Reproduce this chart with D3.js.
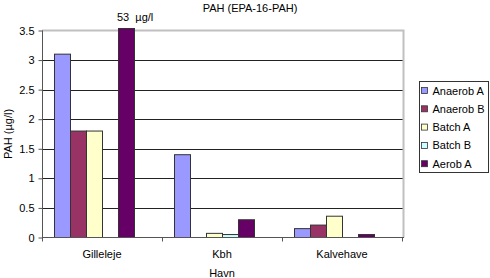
<!DOCTYPE html>
<html>
<head>
<meta charset="utf-8">
<script src="https://cdn.jsdelivr.net/npm/d3@7"></script>
<style>
    body { margin: 0; background: white; }
    svg { display: block; font-family: "Liberation Sans", Arial, sans-serif; }
</style>
</head>
<body>
<div id="chart"></div>
<script>
// harbours along the x axis
const categories = ["Gilleleje", "Kbh", "Kalvehave"];
const series = ["Anaerob A", "Anaerob B", "Batch A", "Batch B", "Aerob A"];
const colors = ["#9999ff", "#993366", "#ffffcc", "#ccffff", "#660066"];

// PAH in µg/l, one array per series (Gilleleje, Kbh, Kalvehave)
const anaerobA = [3.1, 1.4, 0.15];
const anaerobB = [1.8, 0, 0.21];
const batchA = [1.8, 0.07, 0.36];
const batchB = [0, 0.05, 0];
const aerobA = [53, 0.3, 0.05];

const yTicks = [0, 0.5, 1, 1.5, 2, 2.5, 3, 3.5];
const title = "PAH (EPA-16-PAH)";
const yTitle = "PAH (µg/l)";
const xTitle = "Havn";
const overflowLabel = "53  µg/l";

const width = 490;
const height = 278;
const plot = { left: 42, right: 402, top: 30.5, bottom: 237.5 };

function pahChart() {
    const values = [anaerobA, anaerobB, batchA, batchB, aerobA];
    const rows = [];
    categories.forEach((c, i) => {
        series.forEach((s, j) => rows.push({ category: c, series: s, value: values[j][i], color: colors[j] }));
    });

    const svg = d3.select("#chart").append("svg")
        .attr("width", width)
        .attr("height", height);

    const x0 = d3.scaleBand().domain(categories).range([plot.left, plot.right]);
    // Excel leaves room for a sixth slot, so the groups sit left of centre
    const x1 = d3.scaleBand().domain([...series, "_"]).range([0, x0.bandwidth()]).paddingOuter(0.75);
    const y = d3.scaleLinear().domain([0, 3.5]).range([plot.bottom, plot.top]);

    // gridlines
    svg.append("g")
        .selectAll("line")
        .data(yTicks.filter(t => t > 0 && t < 3.5))
        .join("line")
        .attr("x1", plot.left).attr("x2", plot.right + 1)
        .attr("y1", d => Math.round(y(d)) + 0.5).attr("y2", d => Math.round(y(d)) + 0.5)
        .attr("stroke", "#222");

    // plot border (top + right)
    svg.append("path")
        .attr("d", `M${plot.left},${plot.top} H${plot.right + 1.5} V${plot.bottom}`)
        .attr("fill", "none")
        .attr("stroke", "#c0c0c0")
        .attr("stroke-width", 2);

    // bars
    svg.append("g")
        .selectAll("rect")
        .data(rows.filter(d => d.value > 0))
        .join("rect")
        .attr("x", d => Math.round(x0(d.category) + x1(d.series)) + 0.5)
        .attr("width", x1.bandwidth())
        .attr("y", d => d.value > 3.5 ? plot.top - 2 : y(d.value))
        .attr("height", d => plot.bottom - (d.value > 3.5 ? plot.top - 2 : y(d.value)))
        .attr("fill", d => d.color)
        .attr("stroke", "#333")
        .attr("stroke-width", 1);

    // value that runs off the scale
    const over = rows.find(d => d.value > 3.5);
    svg.append("text")
        .attr("x", x0(over.category) + x1(over.series) - 1)
        .attr("y", 21)
        .attr("font-size", 11)
        .attr("fill", "#000")
        .style("white-space", "pre")
        .text(overflowLabel);

    // y axis
    const yAxis = svg.append("g")
        .attr("transform", `translate(${plot.left + 0.5},0)`)
        .call(d3.axisLeft(y).tickValues(yTicks).tickSize(4).tickPadding(4).tickFormat(d3.format("")));
    yAxis.select(".domain").attr("stroke", "#555").attr("d", `M0,${plot.top}V${plot.bottom}`);
    yAxis.selectAll(".tick line").attr("stroke", "#555");
    yAxis.selectAll(".tick text").attr("font-size", 11).attr("fill", "#000").attr("font-family", null);
    yAxis.attr("font-family", null);

    // x axis
    const xAxis = svg.append("g")
        .attr("transform", `translate(0,${plot.bottom})`);
    xAxis.append("line")
        .attr("x1", plot.left).attr("x2", plot.right + 2)
        .attr("stroke", "#555");
    xAxis.selectAll("line.tick")
        .data([...categories.map(c => x0(c)), plot.right])
        .join("line")
        .attr("class", "tick")
        .attr("x1", d => Math.round(d) + 0.5).attr("x2", d => Math.round(d) + 0.5)
        .attr("y1", 0).attr("y2", 4)
        .attr("stroke", "#555");
    xAxis.selectAll("text")
        .data(categories)
        .join("text")
        .attr("x", d => x0(d) + x0.bandwidth() / 2)
        .attr("y", 20)
        .attr("text-anchor", "middle")
        .attr("font-size", 11)
        .text(d => d);

    // titles
    svg.append("text")
        .attr("x", 250).attr("y", 12)
        .attr("text-anchor", "middle")
        .attr("font-size", 11)
        .text(title);
    svg.append("text")
        .attr("x", (plot.left + plot.right) / 2).attr("y", 277)
        .attr("text-anchor", "middle")
        .attr("font-size", 11)
        .text(xTitle);
    svg.append("text")
        .attr("transform", `translate(12,${(plot.top + plot.bottom) / 2}) rotate(-90)`)
        .attr("text-anchor", "middle")
        .attr("font-size", 11)
        .text(yTitle);

    // legend
    const legend = svg.append("g").attr("transform", "translate(419.5,81.5)");
    legend.append("rect")
        .attr("width", 69).attr("height", 91)
        .attr("fill", "white")
        .attr("stroke", "#333");
    const item = legend.selectAll("g")
        .data(series)
        .join("g")
        .attr("transform", (d, i) => `translate(0,${9 + i * 18.3})`);
    item.append("rect")
        .attr("x", 2).attr("y", -3)
        .attr("width", 6).attr("height", 6)
        .attr("fill", (d, i) => colors[i])
        .attr("stroke", "#333")
        .attr("stroke-width", 0.8);
    item.append("text")
        .attr("x", 13).attr("y", 4)
        .attr("font-size", 11)
        .text(d => d);
}

pahChart();
</script>
</body>
</html>
